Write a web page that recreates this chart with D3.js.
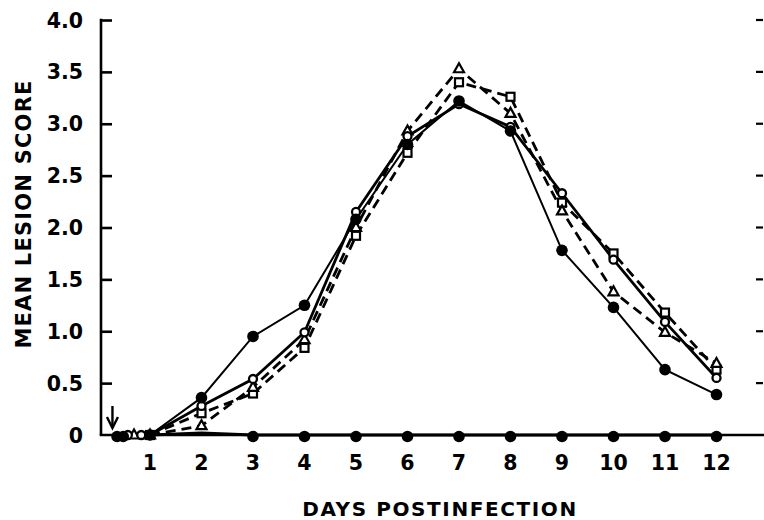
<!DOCTYPE html>
<html><head><meta charset="utf-8">
<script src="https://cdn.jsdelivr.net/npm/d3@7"></script>
<style>body{margin:0;background:#fff}svg{display:block}text{font-family:"DejaVu Sans",sans-serif;font-weight:bold;fill:#000}</style>
</head><body>
<svg id="c" width="764" height="520"></svg>
<script>
// ---- data ----
const days = [1,2,3,4,5,6,7,8,9,10,11,12];
const seriesA_filled = [0,0.36,0.95,1.25,2.08,2.80,3.22,2.93,1.78,1.23,0.63,0.39];
const seriesB_openCircle = [0,0.28,0.54,0.99,2.15,2.88,3.19,2.97,2.33,1.69,1.09,0.55];
const seriesC_triangle = [0,0.09,0.46,0.92,2.00,2.93,3.53,3.10,2.16,1.38,0.99,0.69];
const seriesD_square = [0,0.21,0.40,0.84,1.92,2.72,3.40,3.26,2.24,1.75,1.18,0.63];
const controlDays = [0.36,0.48,1,2,3,4,5,6,7,8,9,10,11,12];
const controlValues = [0,0,0,0.02,0,0,0,0,0,0,0,0,0,0];
const earlyB = {days:[0.57,0.83], values:[0,0]};
const earlyC = {days:[0.69], values:[0]};
const yTicks = [0,0.5,1.0,1.5,2.0,2.5,3.0,3.5,4.0];
const yTickLabels = ["0","0.5","1.0","1.5","2.0","2.5","3.0","3.5","4.0"];
const xTickLabels = ["1","2","3","4","5","6","7","8","9","10","11","12"];
const inoculationDay = 0.3;

// ---- layout ----
const svg = d3.select("#c");
const x = d3.scaleLinear().domain([0,13]).range([98.5, 98.5+13*51.5]);
const y = d3.scaleLinear().domain([0,4]).range([435,20]);
const axisX0 = 101, axisX1 = 764;

// y axis (ticks pointing inward)
const yAxis = d3.axisRight(y).tickValues(yTicks.slice(1)).tickSize(11).tickFormat("");
const ga = svg.append("g").attr("transform",`translate(${axisX0},0)`).call(yAxis);
ga.select(".domain").remove();
ga.selectAll("line").attr("stroke","#000").attr("stroke-width",2.6);
svg.append("line").attr("x1",axisX0).attr("x2",axisX0).attr("y1",y(4)-1.3).attr("y2",y(0))
  .attr("stroke","#000").attr("stroke-width",2.6);
// x axis baseline
svg.append("line").attr("x1",axisX0-1.3).attr("x2",axisX1).attr("y1",y(0)).attr("y2",y(0))
  .attr("stroke","#000").attr("stroke-width",2.6);
// right side tick marks
svg.append("g").selectAll("line").data(yTicks.slice(1)).join("line")
  .attr("x1",756).attr("x2",763).attr("y1",d=>y(d)).attr("y2",d=>y(d))
  .attr("stroke","#000").attr("stroke-width",2.2);

// y tick labels
svg.append("g").selectAll("text").data(yTicks).join("text")
  .attr("x",83).attr("y",d=>y(d)+7.5).attr("text-anchor","end")
  .attr("font-size",20.5).text((d,i)=>yTickLabels[i]);
// x tick labels
svg.append("g").selectAll("text").data(days).join("text")
  .attr("x",d=>x(d)).attr("y",470).attr("text-anchor","middle")
  .attr("font-size",20.5).text((d,i)=>xTickLabels[i]);

// axis titles
svg.append("text").attr("transform","translate(31,214) rotate(-90)")
  .attr("text-anchor","middle").attr("font-size",21).attr("letter-spacing",1.2)
  .text("MEAN LESION SCORE");
svg.append("text").attr("x",440).attr("y",516).attr("text-anchor","middle")
  .attr("font-size",20).attr("letter-spacing",1.6).text("DAYS POSTINFECTION");

// arrow for inoculation
const ax = x(inoculationDay)-1.5;
svg.append("line").attr("x1",ax).attr("x2",ax).attr("y1",406).attr("y2",426)
  .attr("stroke","#000").attr("stroke-width",2.4);
svg.append("path").attr("d",`M${ax-5.5},417 L${ax},428 L${ax+5.5},417`)
  .attr("fill","none").attr("stroke","#000").attr("stroke-width",2.4);

const line = d3.line().x(d=>x(d[0])).y(d=>y(d[1]));
const zip = (a,b)=>a.map((v,i)=>[v,b[i]]);

// control
svg.append("path").datum(zip(controlDays,controlValues)).attr("d",line)
  .attr("fill","none").attr("stroke","#000").attr("stroke-width",3);

// infected series lines
const sD = zip(days,seriesD_square), sC = zip(days,seriesC_triangle);
const sB = zip(days,seriesB_openCircle), sA = zip(days,seriesA_filled);
svg.append("path").datum(sD).attr("d",line).attr("fill","none").attr("stroke","#000")
  .attr("stroke-width",2.8).attr("stroke-dasharray","10,6");
svg.append("path").datum(sC).attr("d",line).attr("fill","none").attr("stroke","#000")
  .attr("stroke-width",2.8).attr("stroke-dasharray","10,6");
svg.append("path").datum(sB).attr("d",line).attr("fill","none").attr("stroke","#000")
  .attr("stroke-width",2.8);
svg.append("path").datum(sA).attr("d",line).attr("fill","none").attr("stroke","#000")
  .attr("stroke-width",2);

// markers
const gm = svg.append("g");
gm.selectAll(".sq").data(sD).join("rect").attr("x",d=>x(d[0])-4).attr("y",d=>y(d[1])-4)
  .attr("width",8).attr("height",8).attr("fill","#fff").attr("stroke","#000").attr("stroke-width",2.2);
gm.selectAll(".tri").data(sC.concat(zip(earlyC.days,earlyC.values))).join("path")
  .attr("transform",d=>`translate(${x(d[0])},${y(d[1])})`)
  .attr("d","M0,-5.5 L5,3.5 L-5,3.5 Z").attr("fill","#fff").attr("stroke","#000").attr("stroke-width",2.2);
gm.selectAll(".oc").data(sB.concat(zip(earlyB.days,earlyB.values))).join("circle")
  .attr("cx",d=>x(d[0])).attr("cy",d=>y(d[1])).attr("r",4)
  .attr("fill","#fff").attr("stroke","#000").attr("stroke-width",2.3);
gm.selectAll(".fc").data(sA).join("circle")
  .attr("cx",d=>x(d[0])).attr("cy",d=>y(d[1])).attr("r",5.8).attr("fill","#000");
gm.selectAll(".ctl").data(zip(controlDays,controlValues).filter(d=>d[0]!==1&&d[0]!==2)).join("circle")
  .attr("cx",d=>x(d[0])).attr("cy",d=>y(d[1])+1.5).attr("r",5.8).attr("fill","#000");
</script>
</body></html>
